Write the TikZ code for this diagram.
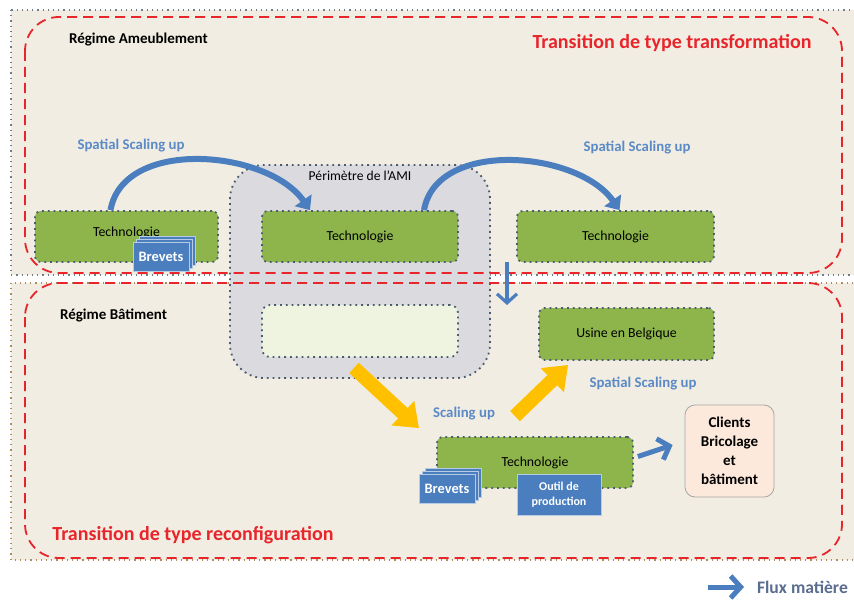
\documentclass[tikz,border=0pt]{standalone}
\usepackage{fontspec}
\setmainfont{Carlito}
\usepackage{tikz}
\usetikzlibrary{arrows.meta, positioning, shadows}

\definecolor{bgbeige}{HTML}{F1EDE2}
\definecolor{techgreen}{HTML}{8DB54B}
\definecolor{dotgray}{HTML}{4B5B70}
\definecolor{amigray}{HTML}{DADADF}
\definecolor{lightgreen}{HTML}{EFF4E1}
\definecolor{flowblue}{HTML}{4A7EBF}
\definecolor{txtblue}{HTML}{5B8AC6}
\definecolor{trred}{HTML}{E8252B}
\definecolor{scaleyellow}{HTML}{FFC000}
\definecolor{clientpeach}{HTML}{FCE9DB}
\definecolor{legendblue}{HTML}{5A6D90}
\definecolor{zonebrown}{HTML}{B08A5A}

\begin{document}
\begin{tikzpicture}[x=0.5pt, y=-0.5pt,
  tech/.style={draw=dotgray, dotted, line width=0.9pt, fill=techgreen, rounded corners=3pt,
    minimum height=25.5pt, font=\fontsize{6.9}{8}\selectfont},
  brevet/.style={fill=flowblue, draw=white!60!flowblue, line width=0.4pt,
    double copy shadow={shadow xshift=1.6pt, shadow yshift=1.6pt},
    text=white, font=\bfseries\fontsize{7.2}{8}\selectfont,
    minimum width=28pt, minimum height=14.5pt, inner sep=1pt},
  bluelabel/.style={text=txtblue, font=\bfseries\fontsize{7.4}{9}\selectfont},
  regime/.style={anchor=west, font=\bfseries\fontsize{7.5}{9}\selectfont},
  trlabel/.style={text=trred, font=\bfseries\fontsize{10}{12}\selectfont},
  trzone/.style={draw=trred, line width=0.9pt, dash pattern=on 5pt off 3pt, rounded corners=17pt},
  curvearrow/.style={draw=flowblue, line width=3pt, -{Triangle[width=10pt,length=6pt]}},
  fatflow/.style={draw=flowblue, line width=2.5pt, -{Straight Barb[width=11pt,length=5pt]}},
  yarrow/.style={draw=scaleyellow, line width=7pt, -{Triangle[width=16pt,length=11pt]}}]
\useasboundingbox (0,0) rectangle (854,599);
% Regimes (zones)
\fill[white] (0,0) rectangle (854,599);
\filldraw[fill=bgbeige, draw=dotgray!80, dotted, line width=0.6pt] (11,10) rectangle (870,275);
\filldraw[fill=bgbeige, draw=zonebrown, dotted, line width=0.6pt] (11,283) rectangle (870,560);
% Perimetre AMI
\node[draw=dotgray, dotted, line width=0.9pt, fill=amigray, rounded corners=17pt,
  minimum width=130pt, minimum height=106.5pt] (ami) at (360,271.5) {};
\node[anchor=north, font=\fontsize{6.8}{8}\selectfont] (amilbl) at (360,164) {Périmètre de l’AMI};
\node[draw=dotgray, dotted, line width=0.9pt, fill=lightgreen, rounded corners=4pt,
  minimum width=98pt, minimum height=26pt] (amibox) at (360,331) {};
% Transition zones
\draw[trzone] (25,17) rectangle (842,273);
\draw[trzone] (25,283) rectangle (842,558);
\node[regime] (ameub) at (62,40) {Régime Ameublement};
\node[regime] (batim) at (53,315) {Régime Bâtiment};
\node[trlabel] (trtransfo) at (672,43) {Transition de type transformation};
\node[trlabel] (trreconf) at (193,535) {Transition de type reconfiguration};
% Technologies
\node[tech, minimum width=91.5pt] (techA) at (126.5,236.5) {\raisebox{5pt}{Technologie}\hspace{8pt}};
\node[tech, minimum width=98pt] (techB) at (360,236.5) {Technologie};
\node[tech, minimum width=98.5pt] (techC) at (615.5,236.5) {Technologie};
\node[tech, minimum width=87.5pt, minimum height=26pt] (usine) at (626.5,334) {Usine en Belgique};
\node[tech, minimum width=98pt] (techD) at (535,462.5) {Technologie};
\node[brevet] (brevA) at (161,257) {Brevets};
\node[brevet] (brevB) at (447,489) {Brevets};
\node[fill=flowblue, draw=white!60!flowblue, line width=0.4pt, text=white, align=center,
  font=\bfseries\fontsize{6}{7.5}\selectfont, minimum width=42pt, minimum height=20.5pt,
  inner sep=1pt] (outil) at (559,494.5) {Outil de\\production};
\node[draw=gray!70, fill=clientpeach, rounded corners=5pt, align=center,
  font=\bfseries\fontsize{7.5}{9.5}\selectfont, minimum width=44.5pt, minimum height=46pt]
  (clients) at (729.5,451) {Clients\\Bricolage\\et\\bâtiment};
% Spatial scaling up
\draw[curvearrow] ([xshift=-8pt]techA.north) to[out=80, in=125, looseness=0.95] ([xshift=-25pt]techB.north);
\draw[curvearrow] ([xshift=32pt]techB.north) to[out=80, in=125, looseness=0.95] ([xshift=2pt]techC.north);
\node[bluelabel] (ssA) at (131,146) {Spatial Scaling up};
\node[bluelabel] (ssB) at (637,148) {Spatial Scaling up};
\node[bluelabel] (ssC) at (643,384) {Spatial Scaling up};
\node[bluelabel] (scal) at (464,414) {Scaling up};
% Passage entre regimes
\coordinate (passtop) at (507,262);
\coordinate (passbot) at (507,305);
\draw[draw=flowblue, line width=1.6pt, -{Straight Barb[width=10pt,length=4.5pt]}] (passtop) -- (passbot);
% Scaling up
\draw[yarrow] ([xshift=-3pt,yshift=-5pt]amibox.south) -- ([xshift=-58pt,yshift=4pt]techD.north);
\draw[yarrow] ([xshift=-10pt,yshift=10pt]techD.north) -- ([xshift=15pt,yshift=-2pt]usine.south west);
% Flux matiere
\draw[fatflow] ([xshift=2pt,yshift=3pt]techD.east) -- ([xshift=-6pt,yshift=3pt]clients.west);
\coordinate (legA) at (708,587);
\coordinate (legB) at (744,587);
\draw[fatflow] (legA) -- (legB);
\node[anchor=west, text=legendblue, font=\bfseries\fontsize{8.8}{10}\selectfont] (leglbl) at (750,587) {Flux matière};
\end{tikzpicture}
\end{document}
